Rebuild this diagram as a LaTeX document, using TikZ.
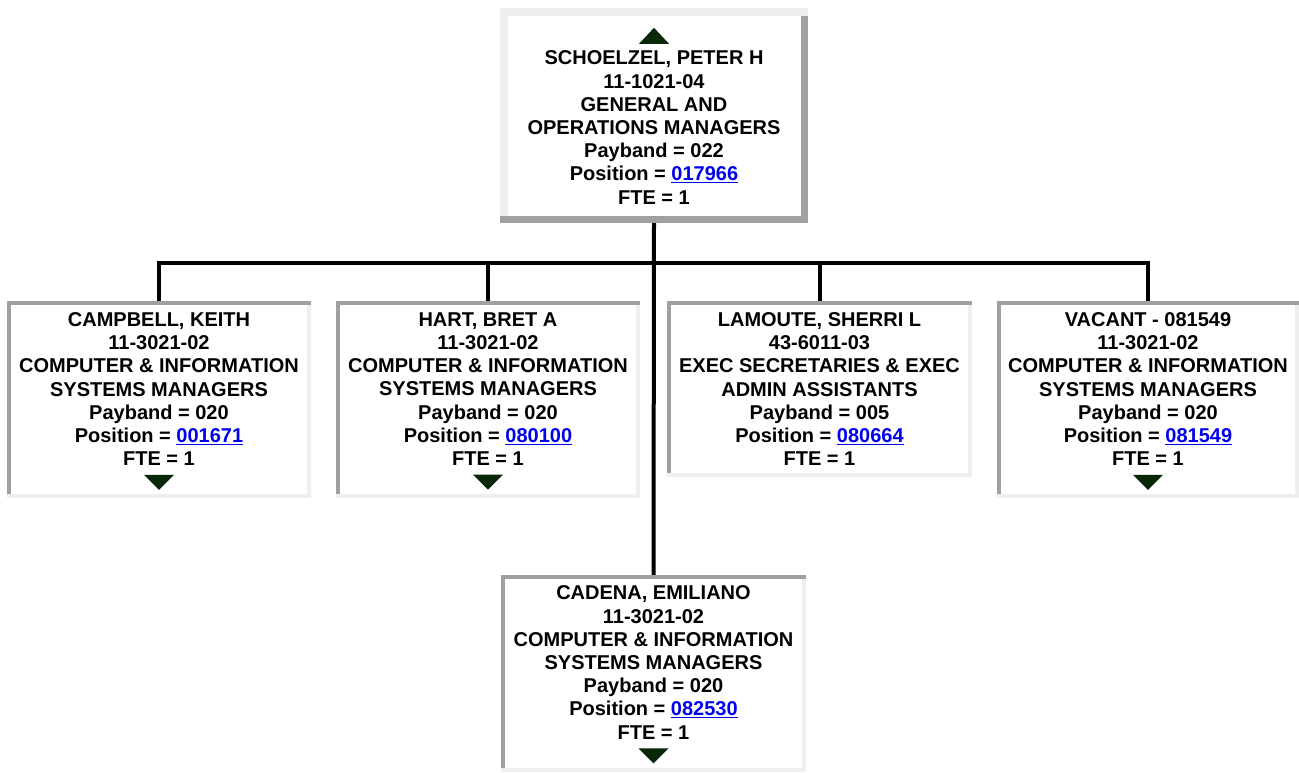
\documentclass[tikz,border=0pt]{standalone}
\usepackage{fontspec}
\setmainfont{Liberation Sans}
\usepackage{tikz}
\usetikzlibrary{calc,positioning}

\definecolor{rimdark}{RGB}{160,160,160}
\definecolor{rimlight}{RGB}{239,239,239}
\definecolor{tipgreen}{RGB}{8,38,8}
\definecolor{linkblue}{RGB}{0,0,238}
\newcommand{\poslink}[1]{\textcolor{linkblue}{\underline{#1}}}

\begin{document}
\begin{tikzpicture}[x=1pt,y=1pt,
    card/.style={inner sep=0pt,minimum width=304pt,minimum height=197pt},
    info/.style={inner sep=0pt,align=center,font=\bfseries\fontsize{20}{23.2}\selectfont},
    wire/.style={line width=4pt,line join=miter},
    tip/.style={fill=tipgreen}]
  \useasboundingbox (0,0) rectangle (1299,772);
  % boxes
  \node[card,minimum width=308pt,minimum height=215pt] (top) at (654,656.5) {};
  \node[card] (campbell) at (159,372.5) {};
  \node[card] (hart) at (488,372.5) {};
  \node[card,minimum width=305pt,minimum height=176pt] (lamoute) at (819.5,383) {};
  \node[card,minimum width=302pt] (vacant) at (1148,372.5) {};
  \node[card,minimum width=305pt] (cadena) at (653.5,98.5) {};
  % raised rim on the manager box
  \fill[rimlight] (top.south west) rectangle (top.north east);
  \fill[rimdark] (top.south west) rectangle ($(top.south east)+(0,7)$);
  \fill[rimdark] ($(top.north east)+(-7,-8)$) rectangle (top.south east);
  \fill[white] ($(top.south west)+(8,7)$) rectangle ($(top.north east)+(-7,-8)$);
  % sunken rim on the staff boxes
  \foreach \n in {campbell,hart,lamoute,vacant,cadena}{
    \fill[rimlight] (\n.south west) rectangle (\n.north east);
    \fill[rimdark] ($(\n.north west)+(0,-4)$) rectangle (\n.north east);
    \fill[rimdark] ($(\n.south west)+(0,4)$) rectangle ($(\n.north west)+(4,0)$);
    \fill[white] ($(\n.south west)+(4,4)$) rectangle ($(\n.north east)+(-4,-4)$);
  }
  % connectors
  \coordinate (bus) at (654,509);
  \draw[wire] (top.south) -- (cadena.north);
  \draw[wire] (campbell.north) |- (bus) -| (vacant.north);
  \draw[wire] (hart.north) -- (hart.north |- bus);
  \draw[wire] (lamoute.north) -- (lamoute.north |- bus);
  % texts
  \node[info,below=43pt of top.north] (top-t) {SCHOELZEL, PETER H\\11-1021-04\\GENERAL AND\\OPERATIONS MANAGERS\\Payband = 022\\Position = \poslink{017966}\\FTE = 1};
  \node[info,below=11.5pt of campbell.north] (campbell-t) {CAMPBELL, KEITH\\11-3021-02\\COMPUTER \& INFORMATION\\SYSTEMS MANAGERS\\Payband = 020\\Position = \poslink{001671}\\FTE = 1};
  \node[info,below=11.5pt of hart.north] (hart-t) {HART, BRET A\\11-3021-02\\COMPUTER \& INFORMATION\\SYSTEMS MANAGERS\\Payband = 020\\Position = \poslink{080100}\\FTE = 1};
  \node[info,below=11.5pt of lamoute.north] (lamoute-t) {LAMOUTE, SHERRI L\\43-6011-03\\EXEC SECRETARIES \& EXEC\\ADMIN ASSISTANTS\\Payband = 005\\Position = \poslink{080664}\\FTE = 1};
  \node[info,below=11.5pt of vacant.north] (vacant-t) {VACANT - 081549\\11-3021-02\\COMPUTER \& INFORMATION\\SYSTEMS MANAGERS\\Payband = 020\\Position = \poslink{081549}\\FTE = 1};
  \node[info,below=11pt of cadena.north] (cadena-t) {CADENA, EMILIANO\\11-3021-02\\COMPUTER \& INFORMATION\\SYSTEMS MANAGERS\\Payband = 020\\Position = \poslink{082530}\\FTE = 1};
  % expand tips
  \fill[tip] ($(top.north)+(-15,-36)$) -- ++(30,0) -- ++(-15,16) -- cycle;
  \foreach \n in {campbell,hart,vacant,cadena}{
    \fill[tip] ($(\n-t.south)+(-15,-9)$) -- ++(30,0) -- ++(-15,-15) -- cycle;
  }
\end{tikzpicture}
\end{document}
